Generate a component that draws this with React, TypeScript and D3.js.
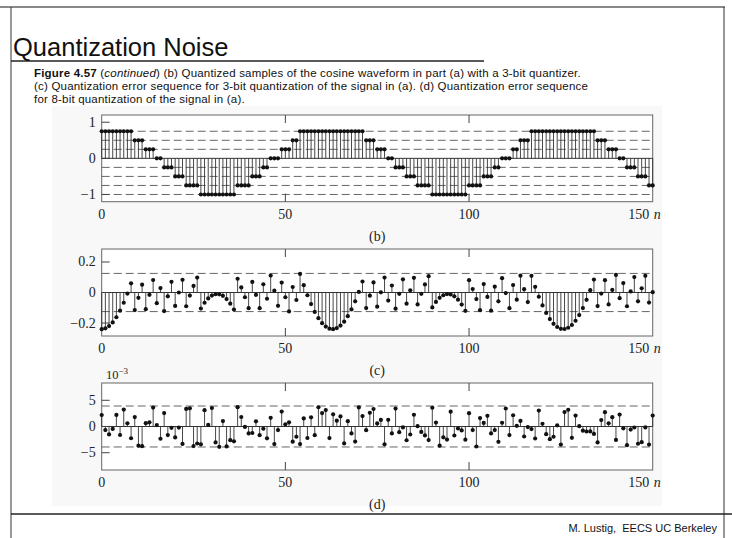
import React from "react";
import * as d3 from "d3";

// (b) 3-bit quantized samples
const quant3 = [
  0.75, 0.75, 0.75, 0.75, 0.75, 0.75, 0.75, 0.75, 0.75, 0.5, 0.5, 0.5, 0.25, 0.25, 0.25, 0, 0,
  -0.25, -0.25, -0.25, -0.5, -0.5, -0.5, -0.75, -0.75, -0.75, -0.75,
  -1, -1, -1, -1, -1, -1, -1, -1, -1, -1, -0.75, -0.75, -0.75, -0.75, -0.5, -0.5, -0.5,
  -0.25, -0.25, 0, 0, 0, 0.25, 0.25, 0.25, 0.5, 0.5,
  0.75, 0.75, 0.75, 0.75, 0.75, 0.75, 0.75, 0.75, 0.75, 0.75, 0.75, 0.75, 0.75, 0.75, 0.75, 0.75, 0.75, 0.75,
  0.5, 0.5, 0.5, 0.25, 0.25, 0.25, 0, 0, -0.25, -0.25, -0.25, -0.5, -0.5, -0.5, -0.75, -0.75, -0.75, -0.75,
  -1, -1, -1, -1, -1, -1, -1, -1, -1, -1, -0.75, -0.75, -0.75, -0.75, -0.5, -0.5, -0.5,
  -0.25, -0.25, 0, 0, 0, 0.25, 0.25, 0.5, 0.5, 0.5,
  0.75, 0.75, 0.75, 0.75, 0.75, 0.75, 0.75, 0.75, 0.75, 0.75, 0.75, 0.75, 0.75, 0.75, 0.75, 0.75, 0.75, 0.75,
  0.5, 0.5, 0.5, 0.25, 0.25, 0.25, 0, 0, -0.25, -0.25, -0.25, -0.5, -0.5, -0.5, -0.75, -0.75,
];

// (c) 3-bit quantization error
const err3 = [
  -0.24, -0.235, -0.22, -0.196, -0.162, -0.119, -0.067, -0.007, 0.06, -0.115,
  -0.035, 0.051, -0.109, -0.015, 0.082, -0.07, 0.029, -0.122, -0.025, 0.07,
  -0.088, 0.0, 0.083, -0.09, -0.02, 0.043, 0.098, -0.105, -0.067, -0.039,
  -0.02, -0.011, -0.012, -0.022, -0.043, -0.073, -0.112, 0.09, 0.033, -0.031,
  -0.103, 0.069, -0.015, -0.103, 0.054, -0.041, 0.111, 0.012, -0.087, 0.065,
  -0.031, -0.124, 0.036, -0.049, 0.122, 0.048, -0.018, -0.076, -0.127, -0.168,
  -0.201, -0.223, -0.237, -0.24, -0.233, -0.217, -0.191, -0.155, -0.111, -0.058,
  0.004, 0.072, -0.102, -0.021, 0.066, -0.093, 0.001, 0.098, -0.053, 0.046,
  -0.106, -0.009, 0.086, -0.073, 0.014, 0.096, -0.078, -0.009, 0.053, 0.107,
  -0.098, -0.062, -0.035, -0.018, -0.01, -0.013, -0.025, -0.047, -0.079, -0.12,
  0.081, 0.023, -0.043, -0.116, 0.055, -0.029, -0.119, 0.038, -0.058, 0.094,
  -0.004, -0.103, 0.049, -0.047, 0.11, 0.022, -0.063, 0.109, 0.037, -0.028,
  -0.085, -0.134, -0.174, -0.205, -0.226, -0.238, -0.239, -0.231, -0.213, -0.185,
  -0.148, -0.102, -0.048, 0.015, 0.085, -0.089, -0.007, 0.081, -0.078, 0.017,
  0.115, -0.037, 0.062, -0.09, 0.007, 0.101, -0.058, 0.028, 0.109, -0.066,
  0.002,
];

// (d) 8-bit quantization error, units of 10^-3
const err8 = [
  2.19, -0.68, -1.52, -0.47, 2.21, -1.62, 3.23, 0.62, -2.24, 1.79,
  -3.65, -3.75, 0.64, 0.8, 3.61, 0.28, -2.34, 2.56, -1.63, -0.26,
  -2.08, -0.2, -3.32, 3.36, 3.46, -3.74, -3.24, -3.41, 3.11, 0.31,
  3.53, -3.04, -3.88, 1.04, -3.81, -2.6, -2.83, 3.68, 1.81, -0.08,
  -1.33, -1.24, 0.98, -1.65, -0.43, -2.25, 1.66, -3.36, -0.69, 2.85,
  0.42, 0.8, -2.89, -1.96, -3.35, 1.54, -2.19, 1.76, -1.66, 3.67,
  2.56, 3.13, -2.2, 2.33, 1.12, 1.93, -3.23, 1.01, -1.33, -2.88,
  3.64, 1.99, -0.7, 2.62, 3.34, 0.58, 1.25, -3.4, 1.27, -1.33,
  3.42, -1.08, -0.17, -2.62, -1.53, 2.24, 0.06, -1.03, -1.71, -2.59,
  3.58, 0.74, -3.66, -2.07, -2.49, 2.82, -1.72, -0.38, -0.75, -2.51,
  2.55, -0.68, -3.82, 1.61, 0.69, 2.03, -1.33, -0.69, -2.93, 0.72,
  3.43, -1.63, 2.15, 0.13, 1.07, -1.91, -0.11, -0.49, -2.29, 3.04,
  0.52, -1.46, -2.42, -1.96, 0.23, -3.44, 2.75, 3.2, -2.16, 2.09,
  0.07, -0.79, -0.95, -0.94, -1.41, -3.03, 1.23, 2.74, 0.62, 1.78,
  -2.56, 2.28, -0.34, -3.57, -0.59, -0.19, -3.29, -3.0, -0.18, -3.44,
  2.09,
];

const xTickValues = [0, 50, 100, 150];
const xTickLabels = ["0", "50", "100", "150"];
const bTickValues = [1, 0, -1];
const bTickLabels = ["1", "0", "\u22121"];
const bLevels = [0.75, 0.5, 0.25, -0.25, -0.5, -0.75, -1];
const cTickValues = [0.2, 0, -0.2];
const cTickLabels = ["0.2", "0", "\u22120.2"];
const cLevels = [0.125, -0.125];
const dTickValues = [5, 0, -5];
const dTickLabels = ["5", "0", "\u22125"];
const dLevels = [3.906, -3.906];

const SERIF = "'Liberation Serif', 'Times New Roman', serif";
const SANS = "'Liberation Sans', Arial, sans-serif";

const x = d3.scaleLinear().domain([0, 150]).range([101.7, 652.7]);

function Panel({ data, domain, top, bottom, levels, tickValues, tickLabels, label }) {
  const y = d3.scaleLinear().domain(domain).range([bottom, top]);
  const x0 = x.range()[0];
  const x1 = x.range()[1];
  const y0 = y(0);
  return (
    <g>
      <rect x={x0} y={top} width={x1 - x0} height={bottom - top} fill="#fff" stroke="#666" strokeWidth={1} />
      {levels.map((l, i) => (
        <line key={"l" + i} x1={x0} x2={x1} y1={y(l)} y2={y(l)} stroke="#555" strokeWidth={0.9} strokeDasharray="8,4" />
      ))}
      <line x1={x0} x2={x1} y1={y0} y2={y0} stroke="#333" strokeWidth={1} />
      {tickValues.map((t, i) => (
        <g key={"yt" + i}>
          <line x1={x0} x2={x0 + 8} y1={y(t)} y2={y(t)} stroke="#444" strokeWidth={1} />
          <text x={x0 - 6} y={y(t) + 4.5} textAnchor="end" fontFamily={SERIF} fontSize={14} fill="#222">
            {tickLabels[i]}
          </text>
        </g>
      ))}
      {xTickValues.slice(1, 3).map((t, i) => (
        <g key={"xt" + i}>
          <line x1={x(t)} x2={x(t)} y1={top} y2={top + 8} stroke="#444" strokeWidth={1} />
          <line x1={x(t)} x2={x(t)} y1={bottom} y2={bottom - 8} stroke="#444" strokeWidth={1} />
        </g>
      ))}
      {data.map((v, n) => (
        <line key={"s" + n} x1={x(n)} x2={x(n)} y1={y0} y2={y(v)} stroke="#333" strokeWidth={0.9} />
      ))}
      {data.map((v, n) => (
        <circle key={"c" + n} cx={x(n)} cy={y(v)} r={2.1} fill="#111" />
      ))}
      {xTickValues.map((t, i) => (
        <text key={"xl" + i} x={i === 3 ? x(t) - 14 : x(t)} y={bottom + 17} textAnchor="middle"
          fontFamily={SERIF} fontSize={14} fill="#222">
          {xTickLabels[i]}
        </text>
      ))}
      <text x={x(150) + 1} y={bottom + 17} fontFamily={SERIF} fontStyle="italic" fontSize={14} fill="#222">n</text>
      <text x={(x0 + x1) / 2} y={bottom + 39} textAnchor="middle" fontFamily={SERIF} fontSize={14} fill="#222">
        {label}
      </text>
    </g>
  );
}

export default function App() {
  return (
    <svg width={732} height={538} style={{ position: "absolute", left: 0, top: 0, background: "#fff" }}>
      <rect x={0} y={0} width={732} height={538} fill="#fff" />
      <rect x={52} y={106} width={610} height={400} fill="#f8f8f8" />
      <line x1={0} x2={725} y1={7} y2={7} stroke="#888" strokeWidth={2} />
      <line x1={11} x2={11} y1={7} y2={538} stroke="#333" strokeWidth={1} />
      <line x1={724} x2={724} y1={7} y2={538} stroke="#333" strokeWidth={1} />
      <line x1={11} x2={484} y1={61} y2={61} stroke="#222" strokeWidth={1.5} />
      <line x1={11} x2={732} y1={514} y2={514} stroke="#222" strokeWidth={1.5} />
      <text x={13} y={56} fontFamily={SANS} fontSize={25.5} fill="#111">Quantization Noise</text>
      <g fontFamily={SANS} fontSize={11.5} letterSpacing={0.2} fill="#111" style={{ whiteSpace: "pre" }}>
        <text x={34} y={76.5}>
          <tspan fontWeight="bold">Figure 4.57</tspan>
          <tspan>{" ("}</tspan>
          <tspan fontStyle="italic">continued</tspan>
          <tspan>{")  (b) Quantized samples of the cosine waveform in part (a) with a 3-bit quantizer."}</tspan>
        </text>
        <text x={34} y={89.5}>
          (c) Quantization error sequence for 3-bit quantization of the signal in (a). (d) Quantization error sequence
        </text>
        <text x={34} y={102.5}>for 8-bit quantization of the signal in (a).</text>
      </g>

      <Panel data={quant3} domain={[-1.2, 1.2]} top={115} bottom={201.7} levels={bLevels}
        tickValues={bTickValues} tickLabels={bTickLabels} label="(b)" />
      <Panel data={err3} domain={[-0.285, 0.285]} top={249} bottom={336} levels={cLevels}
        tickValues={cTickValues} tickLabels={cTickLabels} label="(c)" />
      <Panel data={err8} domain={[-8.3, 8.3]} top={383} bottom={470} levels={dLevels}
        tickValues={dTickValues} tickLabels={dTickLabels} label="(d)" />
      <text x={106} y={379} fontFamily={SERIF} fontSize={12.5} fill="#222">
        10<tspan dy={-5} fontSize={9}>{"\u22123"}</tspan>
      </text>

      <text x={717} y={532} textAnchor="end" fontFamily={SANS} fontSize={11} fill="#111" style={{ whiteSpace: "pre" }}>
        {"M. Lustig,  EECS UC Berkeley"}
      </text>
    </svg>
  );
}
